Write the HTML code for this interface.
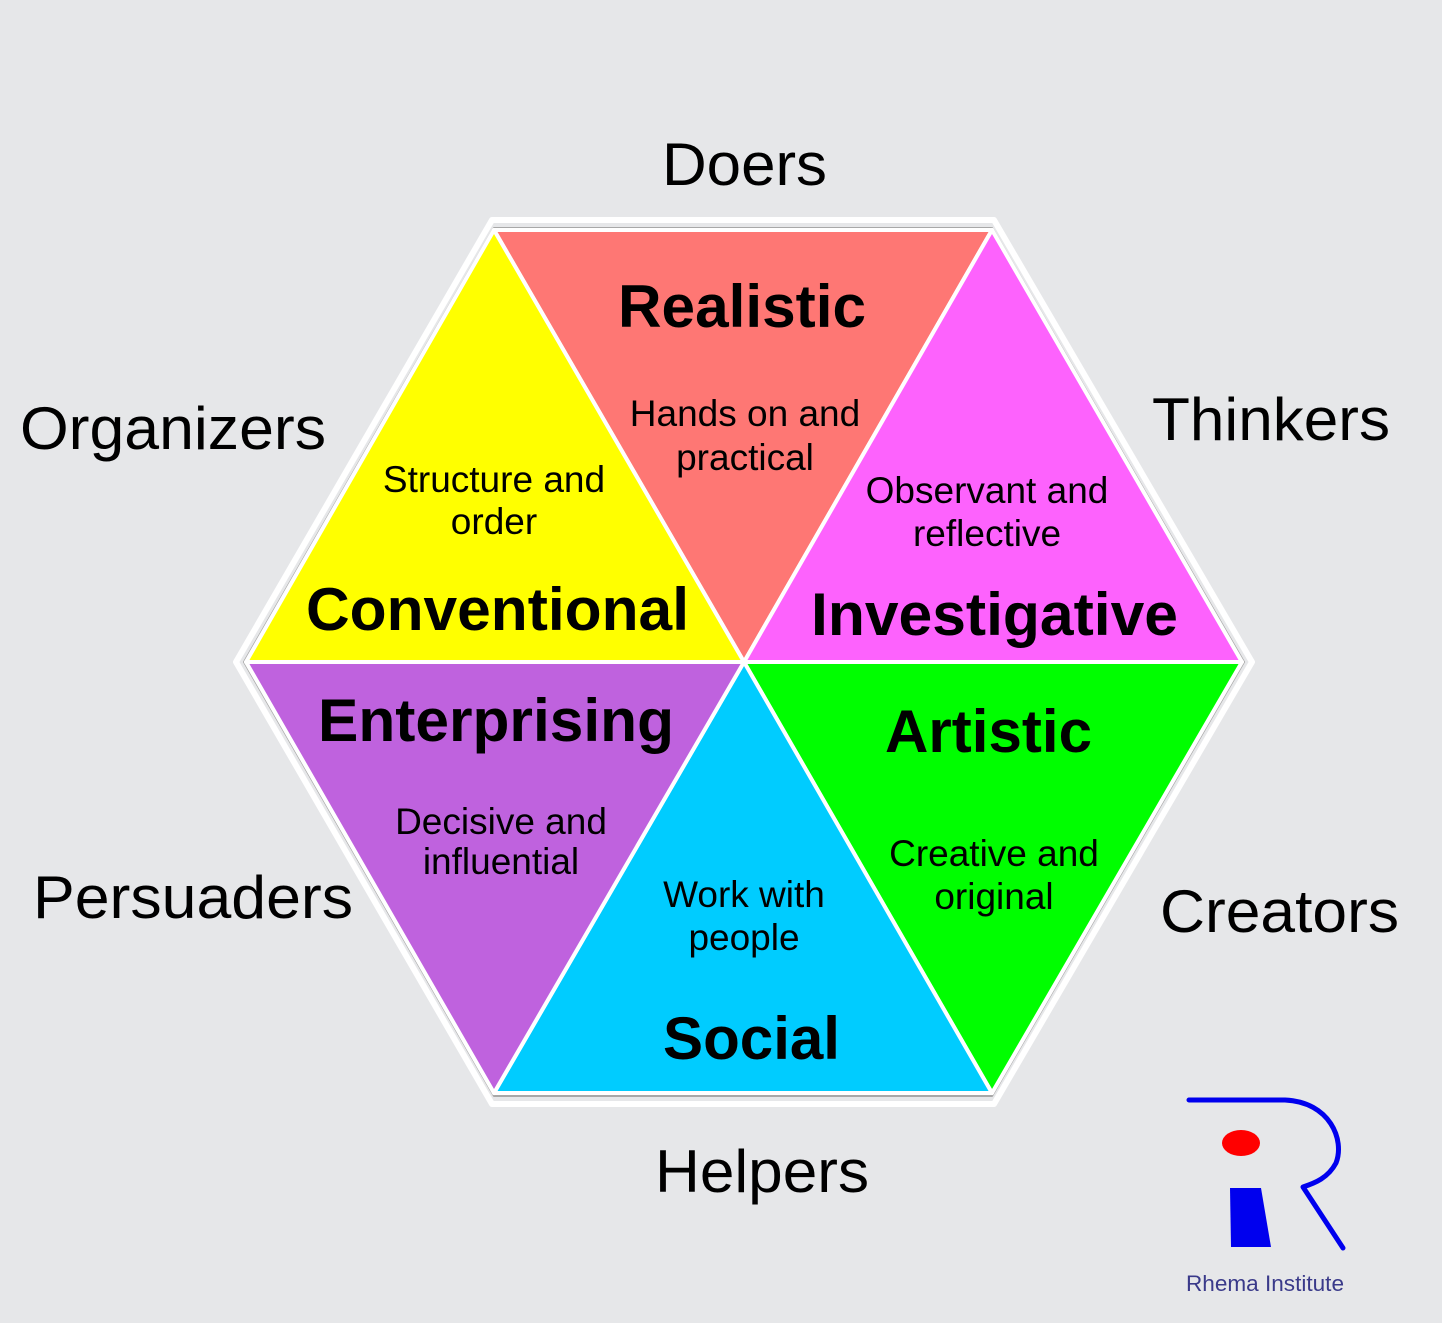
<!DOCTYPE html>
<html><head><meta charset="utf-8"><style>
html,body{margin:0;padding:0;background:#e6e7e9;}
svg{display:block;}
text{font-family:"Liberation Sans",Arial,sans-serif;fill:#000;}
.t{font-weight:bold;font-size:60px;}
.s{font-size:37px;}
.o{font-size:60px;}
</style></head><body>
<svg width="1442" height="1323" viewBox="0 0 1442 1323" xmlns="http://www.w3.org/2000/svg">
<rect width="1442" height="1323" fill="#e6e7e9"/>
<polygon points="492,220 994,220 1252,662 994,1104 492,1104 236,662" fill="none" stroke="#fff" stroke-width="6" stroke-linejoin="round"/>
<polygon points="494,228 992,228 1244,662 992,1096 494,1096 244,662" fill="#fff" stroke="#a8a8a8" stroke-width="2" stroke-linejoin="round"/>
<g stroke="#fff" stroke-width="4" stroke-linejoin="round">
<polygon points="494,230 992,230 744,662" fill="#fe7774"/>
<polygon points="992,230 1242,662 744,662" fill="#fd62fd"/>
<polygon points="1242,662 992,1093 744,662" fill="#00fe00"/>
<polygon points="992,1093 494,1093 744,662" fill="#00ccff"/>
<polygon points="494,1093 246,662 744,662" fill="#bf62de"/>
<polygon points="246,662 494,230 744,662" fill="#ffff00"/>
</g>
<text class="t" x="618" y="327" textLength="248" lengthAdjust="spacingAndGlyphs">Realistic</text>
<text class="t" x="306" y="630" textLength="383" lengthAdjust="spacingAndGlyphs">Conventional</text>
<text class="t" x="811" y="635" textLength="367" lengthAdjust="spacingAndGlyphs">Investigative</text>
<text class="t" x="318" y="741" textLength="356" lengthAdjust="spacingAndGlyphs">Enterprising</text>
<text class="t" x="885" y="752" textLength="207" lengthAdjust="spacingAndGlyphs">Artistic</text>
<text class="t" x="663" y="1059" textLength="177" lengthAdjust="spacingAndGlyphs">Social</text>
<g text-anchor="middle">
<text class="s" x="745" y="426">Hands on and</text>
<text class="s" x="745" y="470">practical</text>
<text class="s" x="494" y="492">Structure and</text>
<text class="s" x="494" y="534">order</text>
<text class="s" x="987" y="503">Observant and</text>
<text class="s" x="987" y="546">reflective</text>
<text class="s" x="501" y="834">Decisive and</text>
<text class="s" x="501" y="874">influential</text>
<text class="s" x="744" y="907">Work with</text>
<text class="s" x="744" y="950">people</text>
<text class="s" x="994" y="866">Creative and</text>
<text class="s" x="994" y="909">original</text>
</g>
<text class="o" x="662" y="185" textLength="165" lengthAdjust="spacingAndGlyphs">Doers</text>
<text class="o" x="20" y="449" textLength="306" lengthAdjust="spacingAndGlyphs">Organizers</text>
<text class="o" x="1152" y="440" textLength="238" lengthAdjust="spacingAndGlyphs">Thinkers</text>
<text class="o" x="33" y="918" textLength="320" lengthAdjust="spacingAndGlyphs">Persuaders</text>
<text class="o" x="1160" y="932" textLength="239" lengthAdjust="spacingAndGlyphs">Creators</text>
<text class="o" x="655" y="1192" textLength="214" lengthAdjust="spacingAndGlyphs">Helpers</text>
<path d="M1189,1100 L1285,1100 C1330,1102 1345,1140 1336,1163 C1328,1178 1315,1183 1303,1187 L1343,1248" fill="none" stroke="#0000ee" stroke-width="5" stroke-linecap="round" stroke-linejoin="round"/>
<ellipse cx="1241" cy="1143" rx="19" ry="13" fill="#ff0000"/>
<polygon points="1230,1188 1261,1188 1271,1247 1231,1247" fill="#0000ee"/>
<text x="1186" y="1291" font-size="22" style="fill:#3a3a8a" textLength="158" lengthAdjust="spacingAndGlyphs">Rhema Institute</text>
</svg>
</body></html>
